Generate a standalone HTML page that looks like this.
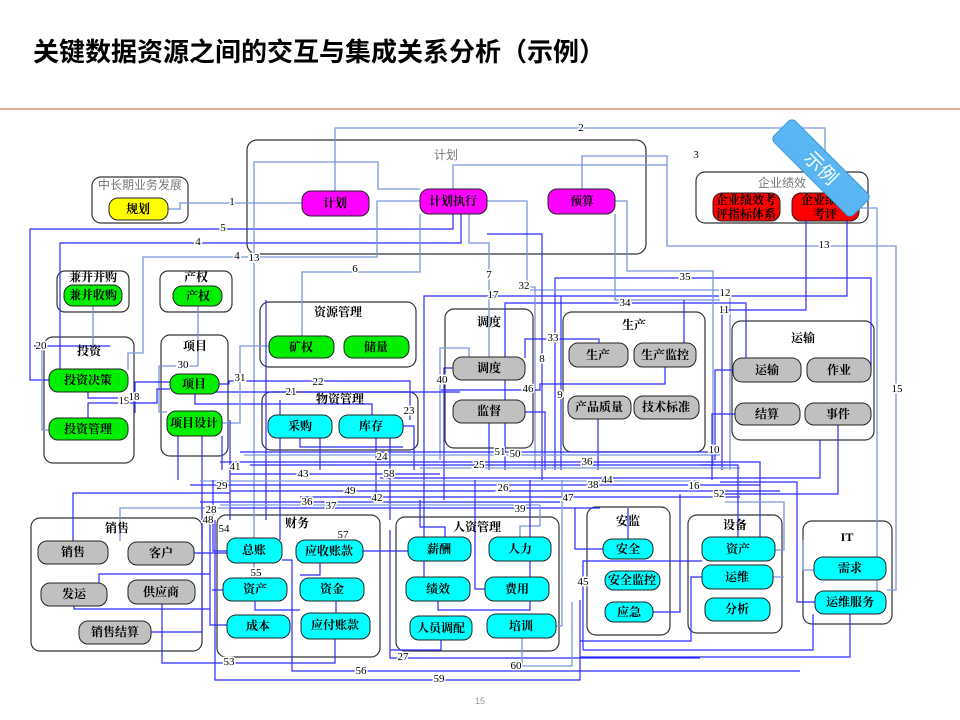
<!DOCTYPE html>
<html><head><meta charset="utf-8"><style>
html,body{margin:0;padding:0;background:#fff;width:960px;height:720px;overflow:hidden}
svg{display:block}
.t{font-family:"Liberation Sans","Noto Sans CJK SC",sans-serif;font-weight:bold}
.n{font-family:"Liberation Serif","Noto Serif CJK SC",serif;font-weight:bold;font-size:12px;text-anchor:middle;dominant-baseline:central;fill:#000}
.g{font-family:"Liberation Serif","Noto Serif CJK SC",serif;font-weight:bold;font-size:12px;text-anchor:middle;fill:#000}
.gl{font-family:"Liberation Sans","Noto Sans CJK SC",sans-serif;font-size:12px;text-anchor:middle;fill:#777}
.num{font-family:"Liberation Serif",serif;font-size:11px;text-anchor:middle;dominant-baseline:central;fill:#000;paint-order:stroke;stroke:#fff;stroke-width:3px}
.a{fill:none;stroke:#2b2bff;stroke-width:1.2}
.b{fill:none;stroke:#7a96dc;stroke-width:1.3}
.grp{fill:#fff;stroke:#333;stroke-width:1.2}
.nd{stroke:#222;stroke-width:1}
</style></head><body>
<svg width="960" height="720" viewBox="0 0 960 720" xmlns="http://www.w3.org/2000/svg">
<text x="33" y="61" class="t" font-size="26">关键数据资源之间的交互与集成关系分析（示例）</text>
<line x1="0" y1="109" x2="960" y2="109" stroke="#c8502a" stroke-width="1"/>

<!-- groups -->
<rect class="grp" x="247" y="140" width="399" height="114" rx="10"/>
<rect class="grp" x="92" y="177" width="96" height="46" rx="9"/>
<rect class="grp" x="696" y="172" width="172" height="51" rx="9"/>
<rect class="grp" x="57" y="271" width="72" height="41" rx="8"/>
<rect class="grp" x="160" y="271" width="72" height="41" rx="8"/>
<rect class="grp" x="260" y="302" width="156" height="65" rx="9"/>
<rect class="grp" x="44" y="337" width="90" height="126" rx="9"/>
<rect class="grp" x="161" y="335" width="67" height="121" rx="9"/>
<rect class="grp" x="262" y="392" width="156" height="58" rx="9"/>
<rect class="grp" x="445" y="309" width="88" height="139" rx="9"/>
<rect class="grp" x="563" y="312" width="142" height="140" rx="9"/>
<rect class="grp" x="732" y="321" width="142" height="119" rx="9"/>
<rect class="grp" x="31" y="518" width="171" height="133" rx="9"/>
<rect class="grp" x="217" y="515" width="163" height="142" rx="9"/>
<rect class="grp" x="396" y="517" width="163" height="134" rx="9"/>
<rect class="grp" x="587" y="507" width="83" height="128" rx="9"/>
<rect class="grp" x="688" y="515" width="94" height="118" rx="9"/>
<rect class="grp" x="803" y="521" width="89" height="103" rx="9"/>

<!-- connectors -->
<g>
<path class="b" d="M168,209 H180 V203 H302"/>
<path class="b" d="M335,191 V128 H825 V193"/>
<path class="b" d="M582,189 V156 H667 V246 H896 V590 H887"/>
<path class="b" d="M453,189 V165 H667"/>
<path class="a" d="M49,380 H30 V229 H453 V214"/>
<path class="a" d="M60,369 V243 H461 V214"/>
<path class="b" d="M128,370 V353 H143 V257 H377 V201 H420"/>
<path class="b" d="M254,600 V162 H378 V189 H420"/>
<path class="b" d="M302,336 V272 H420 V214"/>
<path class="a" d="M555,470 V278 H871 V370"/>
<path class="a" d="M424,600 V296 H847 V221"/>
<path class="b" d="M530,290 H730 V470"/>
<path class="a" d="M505,470 V303 H746 V358"/>
<path class="a" d="M722,470 V310 H806 V221"/>
<path class="b" d="M487,201 H527 V287 H535 V470"/>
<path class="b" d="M469,214 V243 H489 V357"/>
<path class="a" d="M487,234 H542 V480"/>
<path class="b" d="M615,201 H627 V271 H713 V465"/>
<path class="b" d="M615,214 V300 H720"/>
<path class="a" d="M525,358 V339 H599 V343"/>
<path class="a" d="M441,390 H540 V384 H665 V367"/>
<path class="a" d="M561,296 V470"/>
<path class="a" d="M453,368 H444 V500"/>
<path class="b" d="M469,357 V348 H440 V460"/>
<path class="a" d="M525,412 H545 V470"/>
<path class="a" d="M489,423 V470"/>
<path class="a" d="M598,419 V470"/>
<path class="a" d="M684,367 V300"/>
<!-- left area -->
<path class="b" d="M93,306 V351"/>
<path class="b" d="M198,306 V366 H159 V412 H167"/>
<path class="a" d="M34,346 H110"/>
<path class="b" d="M42,346 V430 H49"/>
<path class="a" d="M88,392 V398 H122"/>
<path class="a" d="M88,418 V403 H157 V389 H170"/>
<path class="a" d="M135,413 V382 H170"/>
<path class="a" d="M219,384 H229 V381 H410 V420"/>
<path class="a" d="M210,392 H460"/>
<path class="a" d="M195,394 V404 H372 V415"/>
<path class="b" d="M222,423 H240 V346 H269"/>
<path class="a" d="M403,426 H414 V470"/>
<path class="a" d="M300,438 V447 H403"/>
<path class="a" d="M320,438 V470"/>
<path class="a" d="M178,436 V480"/>
<path class="a" d="M202,436 V540"/>
<path class="a" d="M222,436 V470"/>
<path class="a" d="M376,438 V500"/>
<path class="a" d="M390,438 V520"/>
<path class="a" d="M230,420 V520"/>
<path class="a" d="M266,300 V520"/>
<path class="a" d="M280,400 V540"/>
<!-- band -->
<path class="a" d="M240,452 H720"/>
<path class="b" d="M244,455 H720" stroke-width="2.5"/>
<path class="a" d="M220,462 H760 V537"/>
<path class="a" d="M250,465 H720"/>
<path class="b" d="M420,468 H740"/>
<path class="a" d="M230,474 H440"/>
<path class="a" d="M380,478 H820 V440"/>
<path class="b" d="M200,481 H700"/>
<path class="a" d="M190,485 H760"/>
<path class="a" d="M230,491 H780"/>
<path class="a" d="M300,497 H740"/>
<path class="a" d="M200,502 H560"/>
<path class="b" d="M220,505 H540"/>
<path class="a" d="M230,508 H600"/>
<!-- sales -->
<path class="a" d="M73,541 V493 H230"/>
<path class="b" d="M120,541 V508 H230"/>
<path class="a" d="M194,553 H235 V540"/>
<path class="a" d="M99,583 V574 H210"/>
<path class="a" d="M74,606 V609 H210"/>
<path class="a" d="M162,604 V663 H335 V639"/>
<path class="a" d="M151,632 H202 V500"/>
<path class="a" d="M210,520 V625 H227"/>
<path class="a" d="M227,551 H213 V480"/>
<path class="a" d="M223,590 H212"/>
<path class="a" d="M282,560 H292 V671 H800"/>
<path class="a" d="M215,520 V680 H580 V600"/>
<path class="a" d="M390,530 V658 H700"/>
<path class="a" d="M363,551 H408"/>
<path class="a" d="M445,537 V527 H420 V500"/>
<path class="b" d="M520,537 V526 H540 V505"/>
<path class="a" d="M438,601 V610 H530 V480"/>
<path class="a" d="M485,589 H475 V480"/>
<path class="a" d="M441,640 V650 H390"/>
<path class="b" d="M522,638 V666 H572 V602"/>
<path class="b" d="M556,626 H562 V480"/>
<path class="a" d="M320,563 V575 H300"/>
<path class="a" d="M336,613 V600"/>
<path class="a" d="M255,601 V610 H300"/>
<!-- right lower -->
<path class="a" d="M583,650 V561 H702"/>
<path class="a" d="M583,650 H813 V614"/>
<path class="a" d="M653,612 H680 V494"/>
<path class="a" d="M603,549 H575 V508"/>
<path class="a" d="M702,577 H691 V641 H580"/>
<path class="a" d="M850,614 V657 H580"/>
<path class="a" d="M815,602 H797 V482 H720"/>
<path class="b" d="M814,570 H803 V540"/>
<path class="b" d="M775,550 H784 V502 H725"/>
<path class="b" d="M773,577 H784"/>
<path class="a" d="M738,537 V465 H700"/>
<path class="a" d="M838,425 V494 H720"/>
<path class="a" d="M733,370 H715 V460"/>
<path class="a" d="M735,414 H712 V480"/>
<path class="b" d="M859,208 H877 V600 H886"/>
<path class="a" d="M628,539 V508"/>
</g>

<!-- nodes -->
<g>
<rect class="nd" x="109" y="198" width="59" height="22" rx="9" fill="#ffff00"/><text class="n" x="138" y="209">规划</text>
<rect class="nd" x="302" y="191" width="67" height="25" rx="9" fill="#ff00ff"/><text class="n" x="335" y="203">计划</text>
<rect class="nd" x="420" y="189" width="67" height="25" rx="9" fill="#ff00ff"/><text class="n" x="453" y="201">计划执行</text>
<rect class="nd" x="548" y="189" width="67" height="25" rx="9" fill="#ff00ff"/><text class="n" x="582" y="201">预算</text>
<rect class="nd" x="713" y="193" width="67" height="28" rx="9" fill="#ff0000"/><text class="n" x="746" y="200" font-size="11">企业绩效考</text><text class="n" x="746" y="214" font-size="11">评指标体系</text>
<rect class="nd" x="792" y="193" width="67" height="28" rx="9" fill="#ff0000"/><text class="n" x="825" y="200" font-size="11">企业绩效</text><text class="n" x="825" y="214" font-size="11">考评</text>

<rect class="nd" x="64" y="285" width="58" height="21" rx="9" fill="#00ee00"/><text class="n" x="93" y="295">兼并收购</text>
<rect class="nd" x="173" y="286" width="49" height="20" rx="9" fill="#00ee00"/><text class="n" x="198" y="296">产权</text>
<rect class="nd" x="269" y="336" width="65" height="22" rx="9" fill="#00ee00"/><text class="n" x="301" y="347">矿权</text>
<rect class="nd" x="344" y="336" width="65" height="22" rx="9" fill="#00ee00"/><text class="n" x="376" y="347">储量</text>
<rect class="nd" x="49" y="369" width="79" height="23" rx="9" fill="#00ee00"/><text class="n" x="88" y="380">投资决策</text>
<rect class="nd" x="49" y="418" width="79" height="22" rx="9" fill="#00ee00"/><text class="n" x="88" y="429">投资管理</text>
<rect class="nd" x="170" y="374" width="49" height="20" rx="9" fill="#00ee00"/><text class="n" x="194" y="384">项目</text>
<rect class="nd" x="167" y="411" width="55" height="25" rx="9" fill="#00ee00"/><text class="n" x="194" y="423">项目设计</text>
<rect class="nd" x="268" y="415" width="64" height="23" rx="9" fill="#00ffff"/><text class="n" x="300" y="426">采购</text>
<rect class="nd" x="339" y="415" width="64" height="23" rx="9" fill="#00ffff"/><text class="n" x="371" y="426">库存</text>

<rect class="nd" x="453" y="357" width="72" height="23" rx="9" fill="#c0c0c0"/><text class="n" x="489" y="368">调度</text>
<rect class="nd" x="453" y="400" width="72" height="23" rx="9" fill="#c0c0c0"/><text class="n" x="489" y="411">监督</text>
<rect class="nd" x="569" y="343" width="59" height="24" rx="9" fill="#c0c0c0"/><text class="n" x="598" y="355">生产</text>
<rect class="nd" x="634" y="343" width="62" height="24" rx="9" fill="#c0c0c0"/><text class="n" x="665" y="355">生产监控</text>
<rect class="nd" x="568" y="396" width="63" height="23" rx="9" fill="#c0c0c0"/><text class="n" x="599" y="407">产品质量</text>
<rect class="nd" x="634" y="396" width="65" height="23" rx="9" fill="#c0c0c0"/><text class="n" x="666" y="407">技术标准</text>
<rect class="nd" x="733" y="358" width="68" height="24" rx="9" fill="#c0c0c0"/><text class="n" x="767" y="370">运输</text>
<rect class="nd" x="807" y="358" width="64" height="24" rx="9" fill="#c0c0c0"/><text class="n" x="839" y="370">作业</text>
<rect class="nd" x="735" y="403" width="65" height="22" rx="9" fill="#c0c0c0"/><text class="n" x="767" y="414">结算</text>
<rect class="nd" x="805" y="403" width="66" height="22" rx="9" fill="#c0c0c0"/><text class="n" x="838" y="414">事件</text>

<rect class="nd" x="38" y="541" width="70" height="23" rx="9" fill="#c0c0c0"/><text class="n" x="73" y="552">销售</text>
<rect class="nd" x="128" y="542" width="66" height="23" rx="9" fill="#c0c0c0"/><text class="n" x="161" y="553">客户</text>
<rect class="nd" x="41" y="583" width="66" height="23" rx="9" fill="#c0c0c0"/><text class="n" x="74" y="594">发运</text>
<rect class="nd" x="128" y="580" width="67" height="24" rx="9" fill="#c0c0c0"/><text class="n" x="161" y="592">供应商</text>
<rect class="nd" x="79" y="621" width="72" height="23" rx="9" fill="#c0c0c0"/><text class="n" x="115" y="632">销售结算</text>

<rect class="nd" x="227" y="538" width="55" height="25" rx="9" fill="#00ffff"/><text class="n" x="254" y="550">总账</text>
<rect class="nd" x="296" y="540" width="67" height="23" rx="9" fill="#00ffff"/><text class="n" x="329" y="551">应收账款</text>
<rect class="nd" x="223" y="578" width="64" height="23" rx="9" fill="#00ffff"/><text class="n" x="255" y="589">资产</text>
<rect class="nd" x="300" y="578" width="64" height="23" rx="9" fill="#00ffff"/><text class="n" x="332" y="589">资金</text>
<rect class="nd" x="227" y="615" width="63" height="23" rx="9" fill="#00ffff"/><text class="n" x="258" y="626">成本</text>
<rect class="nd" x="301" y="613" width="69" height="26" rx="9" fill="#00ffff"/><text class="n" x="335" y="625">应付账款</text>

<rect class="nd" x="408" y="537" width="63" height="24" rx="9" fill="#00ffff"/><text class="n" x="439" y="549">薪酬</text>
<rect class="nd" x="489" y="537" width="62" height="24" rx="9" fill="#00ffff"/><text class="n" x="520" y="549">人力</text>
<rect class="nd" x="406" y="577" width="64" height="24" rx="9" fill="#00ffff"/><text class="n" x="438" y="589">绩效</text>
<rect class="nd" x="485" y="577" width="64" height="24" rx="9" fill="#00ffff"/><text class="n" x="517" y="589">费用</text>
<rect class="nd" x="410" y="616" width="62" height="24" rx="9" fill="#00ffff"/><text class="n" x="441" y="628">人员调配</text>
<rect class="nd" x="487" y="614" width="69" height="24" rx="9" fill="#00ffff"/><text class="n" x="521" y="626">培训</text>

<rect class="nd" x="603" y="539" width="50" height="20" rx="9" fill="#00ffff"/><text class="n" x="628" y="549">安全</text>
<rect class="nd" x="605" y="571" width="55" height="19" rx="9" fill="#00ffff"/><text class="n" x="632" y="580">安全监控</text>
<rect class="nd" x="605" y="602" width="48" height="20" rx="9" fill="#00ffff"/><text class="n" x="629" y="612">应急</text>
<rect class="nd" x="702" y="537" width="73" height="24" rx="9" fill="#00ffff"/><text class="n" x="738" y="549">资产</text>
<rect class="nd" x="702" y="565" width="71" height="24" rx="9" fill="#00ffff"/><text class="n" x="737" y="577">运维</text>
<rect class="nd" x="705" y="598" width="65" height="23" rx="9" fill="#00ffff"/><text class="n" x="737" y="609">分析</text>
<rect class="nd" x="814" y="557" width="72" height="23" rx="9" fill="#00ffff"/><text class="n" x="850" y="568">需求</text>
<rect class="nd" x="815" y="591" width="71" height="23" rx="9" fill="#00ffff"/><text class="n" x="850" y="602">运维服务</text>
</g>

<!-- group labels -->
<text class="gl" x="446" y="159">计划</text>
<text class="gl" x="140" y="189">中长期业务发展</text>
<text class="gl" x="782" y="187">企业绩效</text>
<text class="g" x="93" y="281">兼并并购</text>
<text class="g" x="196" y="281">产权</text>
<text class="g" x="338" y="316">资源管理</text>
<text class="g" x="89" y="355">投资</text>
<text class="g" x="195" y="350">项目</text>
<text class="g" x="340" y="403">物资管理</text>
<text class="g" x="489" y="326">调度</text>
<text class="g" x="634" y="329">生产</text>
<text class="g" x="803" y="342">运输</text>
<text class="g" x="117" y="532">销售</text>
<text class="g" x="297" y="527">财务</text>
<text class="g" x="477" y="531">人资管理</text>
<text class="g" x="628" y="525">安监</text>
<text class="g" x="735" y="529">设备</text>
<text class="g" x="847" y="541">IT</text>

<!-- numbers -->
<g>
<text class="num" x="232" y="202">1</text><text class="num" x="581" y="128">2</text><text class="num" x="696" y="155">3</text>
<text class="num" x="198" y="242">4</text><text class="num" x="223" y="228">5</text><text class="num" x="237" y="256">4</text>
<text class="num" x="254" y="258">13</text><text class="num" x="355" y="269">6</text><text class="num" x="489" y="275">7</text>
<text class="num" x="493" y="295">17</text><text class="num" x="524" y="286">32</text><text class="num" x="685" y="277">35</text>
<text class="num" x="725" y="293">12</text><text class="num" x="625" y="303">34</text><text class="num" x="724" y="310">11</text>
<text class="num" x="824" y="245">13</text><text class="num" x="897" y="389">15</text><text class="num" x="41" y="346">20</text>
<text class="num" x="183" y="365">30</text><text class="num" x="240" y="378">31</text><text class="num" x="318" y="382">22</text>
<text class="num" x="291" y="392">21</text><text class="num" x="124" y="401">19</text><text class="num" x="134" y="397">18</text>
<text class="num" x="442" y="380">40</text><text class="num" x="553" y="338">33</text><text class="num" x="542" y="359">8</text>
<text class="num" x="528" y="389">46</text><text class="num" x="560" y="395">9</text><text class="num" x="409" y="411">23</text>
<text class="num" x="714" y="450">10</text><text class="num" x="382" y="457">24</text><text class="num" x="500" y="452">51</text>
<text class="num" x="515" y="454">50</text><text class="num" x="479" y="465">25</text><text class="num" x="587" y="462">36</text>
<text class="num" x="389" y="474">58</text><text class="num" x="607" y="480">44</text><text class="num" x="593" y="485">38</text>
<text class="num" x="235" y="467">41</text><text class="num" x="303" y="474">43</text><text class="num" x="222" y="486">29</text>
<text class="num" x="350" y="491">49</text><text class="num" x="503" y="488">26</text><text class="num" x="694" y="486">16</text>
<text class="num" x="719" y="494">52</text><text class="num" x="568" y="498">47</text><text class="num" x="377" y="498">42</text>
<text class="num" x="307" y="502">36</text><text class="num" x="331" y="506">37</text><text class="num" x="211" y="510">28</text>
<text class="num" x="208" y="520">48</text><text class="num" x="520" y="509">39</text><text class="num" x="224" y="529">54</text>
<text class="num" x="343" y="535">57</text><text class="num" x="256" y="573">55</text><text class="num" x="583" y="582">45</text>
<text class="num" x="229" y="662">53</text><text class="num" x="403" y="657">27</text><text class="num" x="361" y="671">56</text>
<text class="num" x="516" y="666">60</text><text class="num" x="439" y="679">59</text>
</g>

<!-- badge -->
<g transform="translate(821,168) rotate(45)">
<rect x="-56" y="-15" width="112" height="30" rx="5" fill="#5ab6f2" stroke="#3a96d2"/>
<text x="0" y="1" fill="#fff" font-size="19" text-anchor="middle" dominant-baseline="central" font-family="'Liberation Sans','Noto Sans CJK SC',sans-serif">示例</text>
</g>

<text x="480" y="704" font-size="9" fill="#999" text-anchor="middle" font-family="'Liberation Sans',sans-serif">15</text>
</svg>
</body></html>
